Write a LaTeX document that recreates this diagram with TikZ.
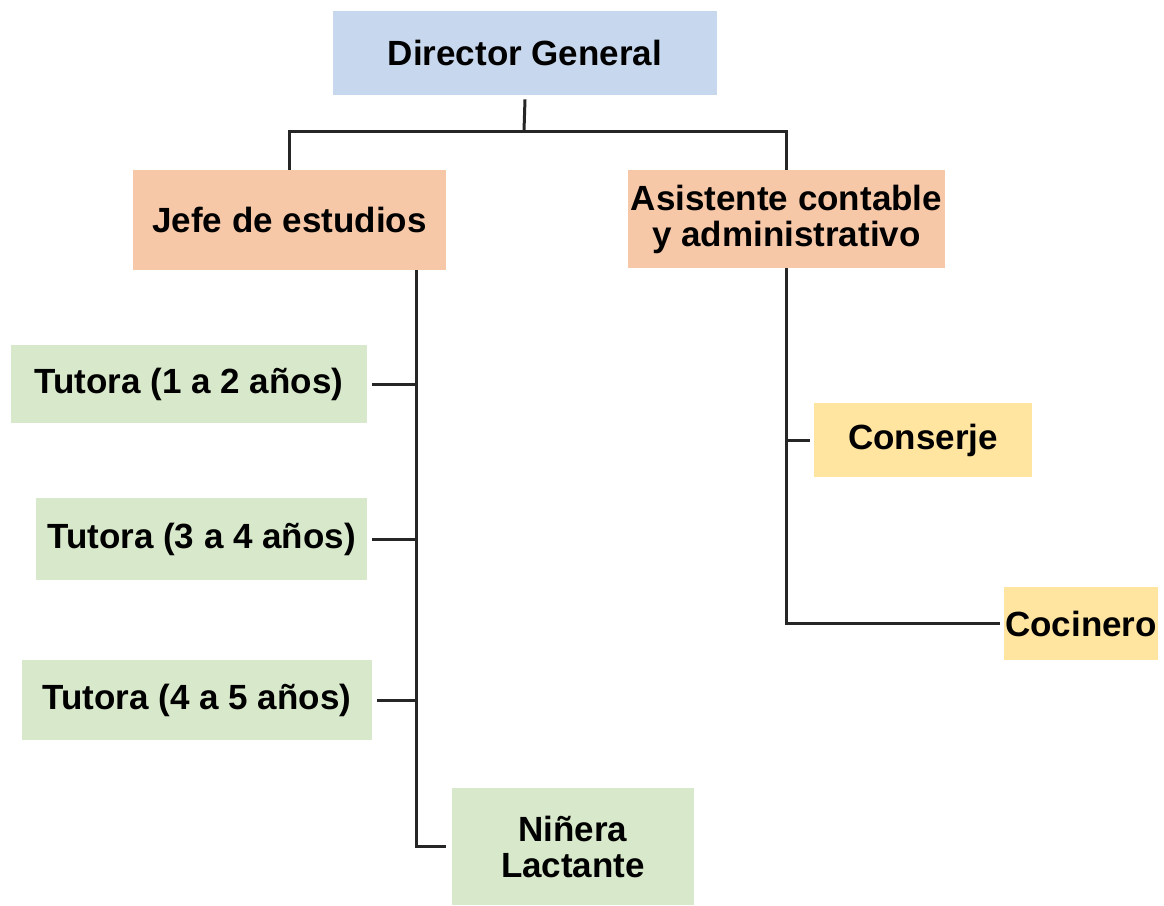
\documentclass[tikz,border=0pt]{standalone}
\usepackage{fontspec}
\setmainfont{Liberation Sans}
\usepackage{tikz}
\definecolor{OrgColorDir}{RGB}{199,215,237}
\definecolor{OrgColorJefe}{RGB}{246,200,168}
\definecolor{OrgColorTut}{RGB}{216,233,203}
\definecolor{OrgColorServ}{RGB}{255,229,160}
\newlength\orgunit
\setlength\orgunit{0.5pt}

\begin{document}
\begin{tikzpicture}[x=1\orgunit,y=-1\orgunit,font=\bfseries\fontsize{17.5}{18}\selectfont,
  unit/.style n args={3}{fill=#1,minimum width=#2\orgunit,minimum height=#3\orgunit,inner sep=0pt,align=center},
  conn/.style={line width=1.5pt,draw=black!85}]
\useasboundingbox (0,0) rectangle (1164,906);
   \node[unit={OrgColorDir}{384}{84}](dir) at(525,53) {Director General};
   \node[unit={OrgColorJefe}{313}{100}](jefe) at(289.5,220) {Jefe de estudios};
   \node[unit={OrgColorJefe}{317}{98}](asis) at(786.5,219) {Asistente contable\\y administrativo};
   \node[unit={OrgColorTut}{356}{78}](tut1) at(189,384) {Tutora (1 a 2 años)};
   \node[unit={OrgColorTut}{331}{82}](tut2) at(201.5,539) {Tutora (3 a 4 años)};
   \node[unit={OrgColorTut}{350}{80}](tut3) at(197,700) {Tutora (4 a 5 años)};
   \node[unit={OrgColorTut}{242}{117}](nin) at(573,846.5) {Niñera\\Lactante};
   \node[unit={OrgColorServ}{218}{74}](cons) at(923,440) {Conserje};
   \node[unit={OrgColorServ}{154}{73}](coc) at(1081,623.5) {Cocinero};
\coordinate (jn) at (524,131);
\coordinate (jt) at ([xshift=-30\orgunit]jefe.south east);
\draw[conn] ([yshift=-4\orgunit]dir.south) -- (jn);
\draw[conn] (jefe.north) |- (jn) -| (asis.north);
\draw[conn] (jt) |- ([xshift=-6\orgunit]nin.west);
\foreach \t in {tut1,tut2,tut3} {
   \draw[conn] ([xshift=5\orgunit]\t.east) -- (\t.east -| jt);
}
\draw[conn] (asis.south) |- ([xshift=-4\orgunit]coc.west);
\draw[conn] ([xshift=-4\orgunit]cons.west) -- (cons.west -| asis.south);
\end{tikzpicture}
\end{document}
